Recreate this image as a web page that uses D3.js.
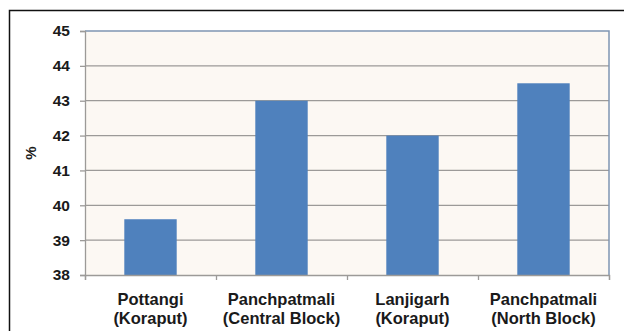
<!DOCTYPE html>
<html><head><meta charset="utf-8">
<script src="https://cdn.jsdelivr.net/npm/d3@7"></script>
<style>body{margin:0;background:#fff}svg{display:block}</style>
</head><body>
<script>
const categories = [["Pottangi","(Koraput)"],["Panchpatmali","(Central Block)"],["Lanjigarh","(Koraput)"],["Panchpatmali","(North Block)"]];
const values = [39.6, 43, 42, 43.5];
const yTicks = [38,39,40,41,42,43,44,45];
const yLabel = "%";

const W = 624, H = 331;
const m = {l:85, r:609, t:31, b:275};
const FONT = "Liberation Sans, Arial, sans-serif";
const svg = d3.select("body").append("svg").attr("width", W).attr("height", H);
// outer frame
svg.append("rect").attr("x",9.5).attr("y",10.5).attr("width",640).attr("height",400)
  .attr("fill","none").attr("stroke","#111").attr("stroke-width",1.5);

const x = d3.scaleBand().domain(d3.range(categories.length)).range([m.l, m.r]).paddingInner(0.6).paddingOuter(0.3);
const y = d3.scaleLinear().domain([38,45]).range([m.b, m.t]);

svg.append("rect").attr("x",m.l).attr("y",m.t).attr("width",m.r-m.l).attr("height",m.b-m.t).attr("fill","#fcf8f3");

// gridlines
svg.append("g").selectAll("line").data(yTicks.filter(t=>t>38 && t<45)).join("line")
  .attr("x1",m.l).attr("x2",m.r).attr("y1",d=>y(d)).attr("y2",d=>y(d))
  .attr("stroke","#9c9a98").attr("stroke-width",1.3);
// top/right border
svg.append("path").attr("d",`M${m.l},${y(45)}H${m.r}V${m.b}`).attr("fill","none").attr("stroke","#7f95b3").attr("stroke-width",1.5);

// bars
svg.append("g").selectAll("rect").data(values).join("rect")
  .attr("x",(d,i)=>x(i)).attr("width",x.bandwidth())
  .attr("y",d=>y(d)).attr("height",d=>y(38)-y(d)).attr("fill","#4f81bd");

// y axis
const ya = svg.append("g").attr("transform",`translate(${m.l},0)`)
  .call(d3.axisLeft(y).tickValues(yTicks).tickSize(5).tickPadding(10).tickFormat(d3.format("d")));
ya.select(".domain").attr("stroke","#9c9a98").attr("stroke-width",1.3);
ya.selectAll(".tick line").attr("stroke","#9c9a98").attr("stroke-width",1.3);
ya.selectAll("text").attr("font-family",FONT).attr("font-weight","bold").attr("font-size",15.5).attr("fill","#1a1a1a");

// x axis
const xb = d3.scaleLinear().domain([0,categories.length]).range([m.l,m.r]);
const xa = svg.append("g").attr("transform",`translate(0,${m.b})`)
  .call(d3.axisBottom(xb).tickValues(d3.range(categories.length+1)).tickSize(5).tickFormat(""));
xa.select(".domain").attr("stroke","#9c9a98").attr("stroke-width",1.3);
xa.selectAll(".tick line").attr("stroke","#9c9a98").attr("stroke-width",1.3);

svg.append("g").selectAll("text").data(categories).join("text")
  .attr("x",(d,i)=>x(i)+x.bandwidth()/2).attr("y",305)
  .attr("text-anchor","middle").attr("font-family",FONT)
  .attr("font-weight","bold").attr("font-size",16.5).attr("fill","#1a1a1a")
  .each(function(d){
    const t=d3.select(this);
    t.append("tspan").attr("x",t.attr("x")).text(d[0]);
    t.append("tspan").attr("x",t.attr("x")).attr("dy",19).text(d[1]);
  });

svg.append("text").attr("transform","translate(36,153) rotate(-90)").attr("text-anchor","middle")
  .attr("font-family",FONT).attr("font-weight","bold").attr("font-size",15).attr("fill","#1a1a1a").text(yLabel);
</script>
</body></html>
